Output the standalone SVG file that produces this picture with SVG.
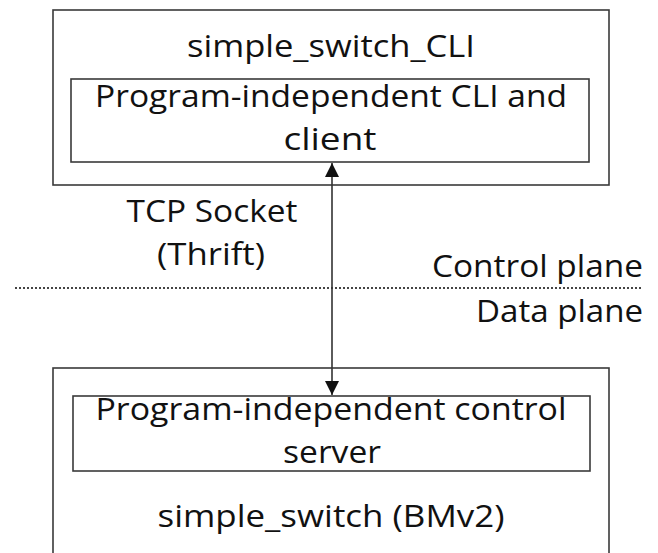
<svg xmlns="http://www.w3.org/2000/svg" width="658" height="553" viewBox="0 0 658 553">
<style>
.box{fill:#fff;stroke:#3a3a3a;stroke-width:1.6}
.t{font-family:"Open Sans","Liberation Sans",sans-serif;font-size:31px;fill:#111;text-anchor:middle}
.tr{font-family:"Open Sans","Liberation Sans",sans-serif;font-size:31px;fill:#111;text-anchor:end}
</style>
<defs>
<marker id="ah" viewBox="0 0 10 10" refX="10" refY="5" markerWidth="14" markerHeight="14" markerUnits="userSpaceOnUse" orient="auto-start-reverse">
<path d="M0,0 L10,5 L0,10 z" fill="#111"/>
</marker>
</defs>
<g id="cli">
<rect class="box" x="53" y="10" width="556" height="175"/>
<text class="t" x="331" y="57" textLength="288" lengthAdjust="spacingAndGlyphs">simple_switch_CLI</text>
</g>
<g id="cli-inner">
<rect class="box" x="71" y="79" width="518" height="83"/>
<text class="t" x="331" y="107" textLength="472" lengthAdjust="spacingAndGlyphs">Program-independent CLI and</text>
<text class="t" x="330" y="150" textLength="93" lengthAdjust="spacingAndGlyphs">client</text>
</g>
<g id="switch">
<rect class="box" x="53" y="368" width="556" height="190"/>
<text class="t" x="331" y="527" textLength="347" lengthAdjust="spacingAndGlyphs">simple_switch (BMv2)</text>
</g>
<g id="switch-inner">
<rect class="box" x="73" y="396" width="517" height="75"/>
<text class="t" x="331" y="420" textLength="471" lengthAdjust="spacingAndGlyphs">Program-independent control</text>
<text class="t" x="332" y="463" textLength="98" lengthAdjust="spacingAndGlyphs">server</text>
</g>
<g id="labels">
<text class="t" x="212" y="222" textLength="171" lengthAdjust="spacingAndGlyphs">TCP Socket</text>
<text class="t" x="211" y="265" textLength="108" lengthAdjust="spacingAndGlyphs">(Thrift)</text>
<text class="tr" x="643" y="277" textLength="211" lengthAdjust="spacingAndGlyphs">Control plane</text>
<text class="tr" x="643" y="322" textLength="167" lengthAdjust="spacingAndGlyphs">Data plane</text>
</g>
<g id="connectors">
<line x1="15" y1="288" x2="643" y2="288" stroke="#444" stroke-width="2" stroke-dasharray="2,2"/>
<line x1="332" y1="163" x2="332" y2="395" stroke="#333" stroke-width="1.6" marker-start="url(#ah)" marker-end="url(#ah)"/>
</g>
</svg>
